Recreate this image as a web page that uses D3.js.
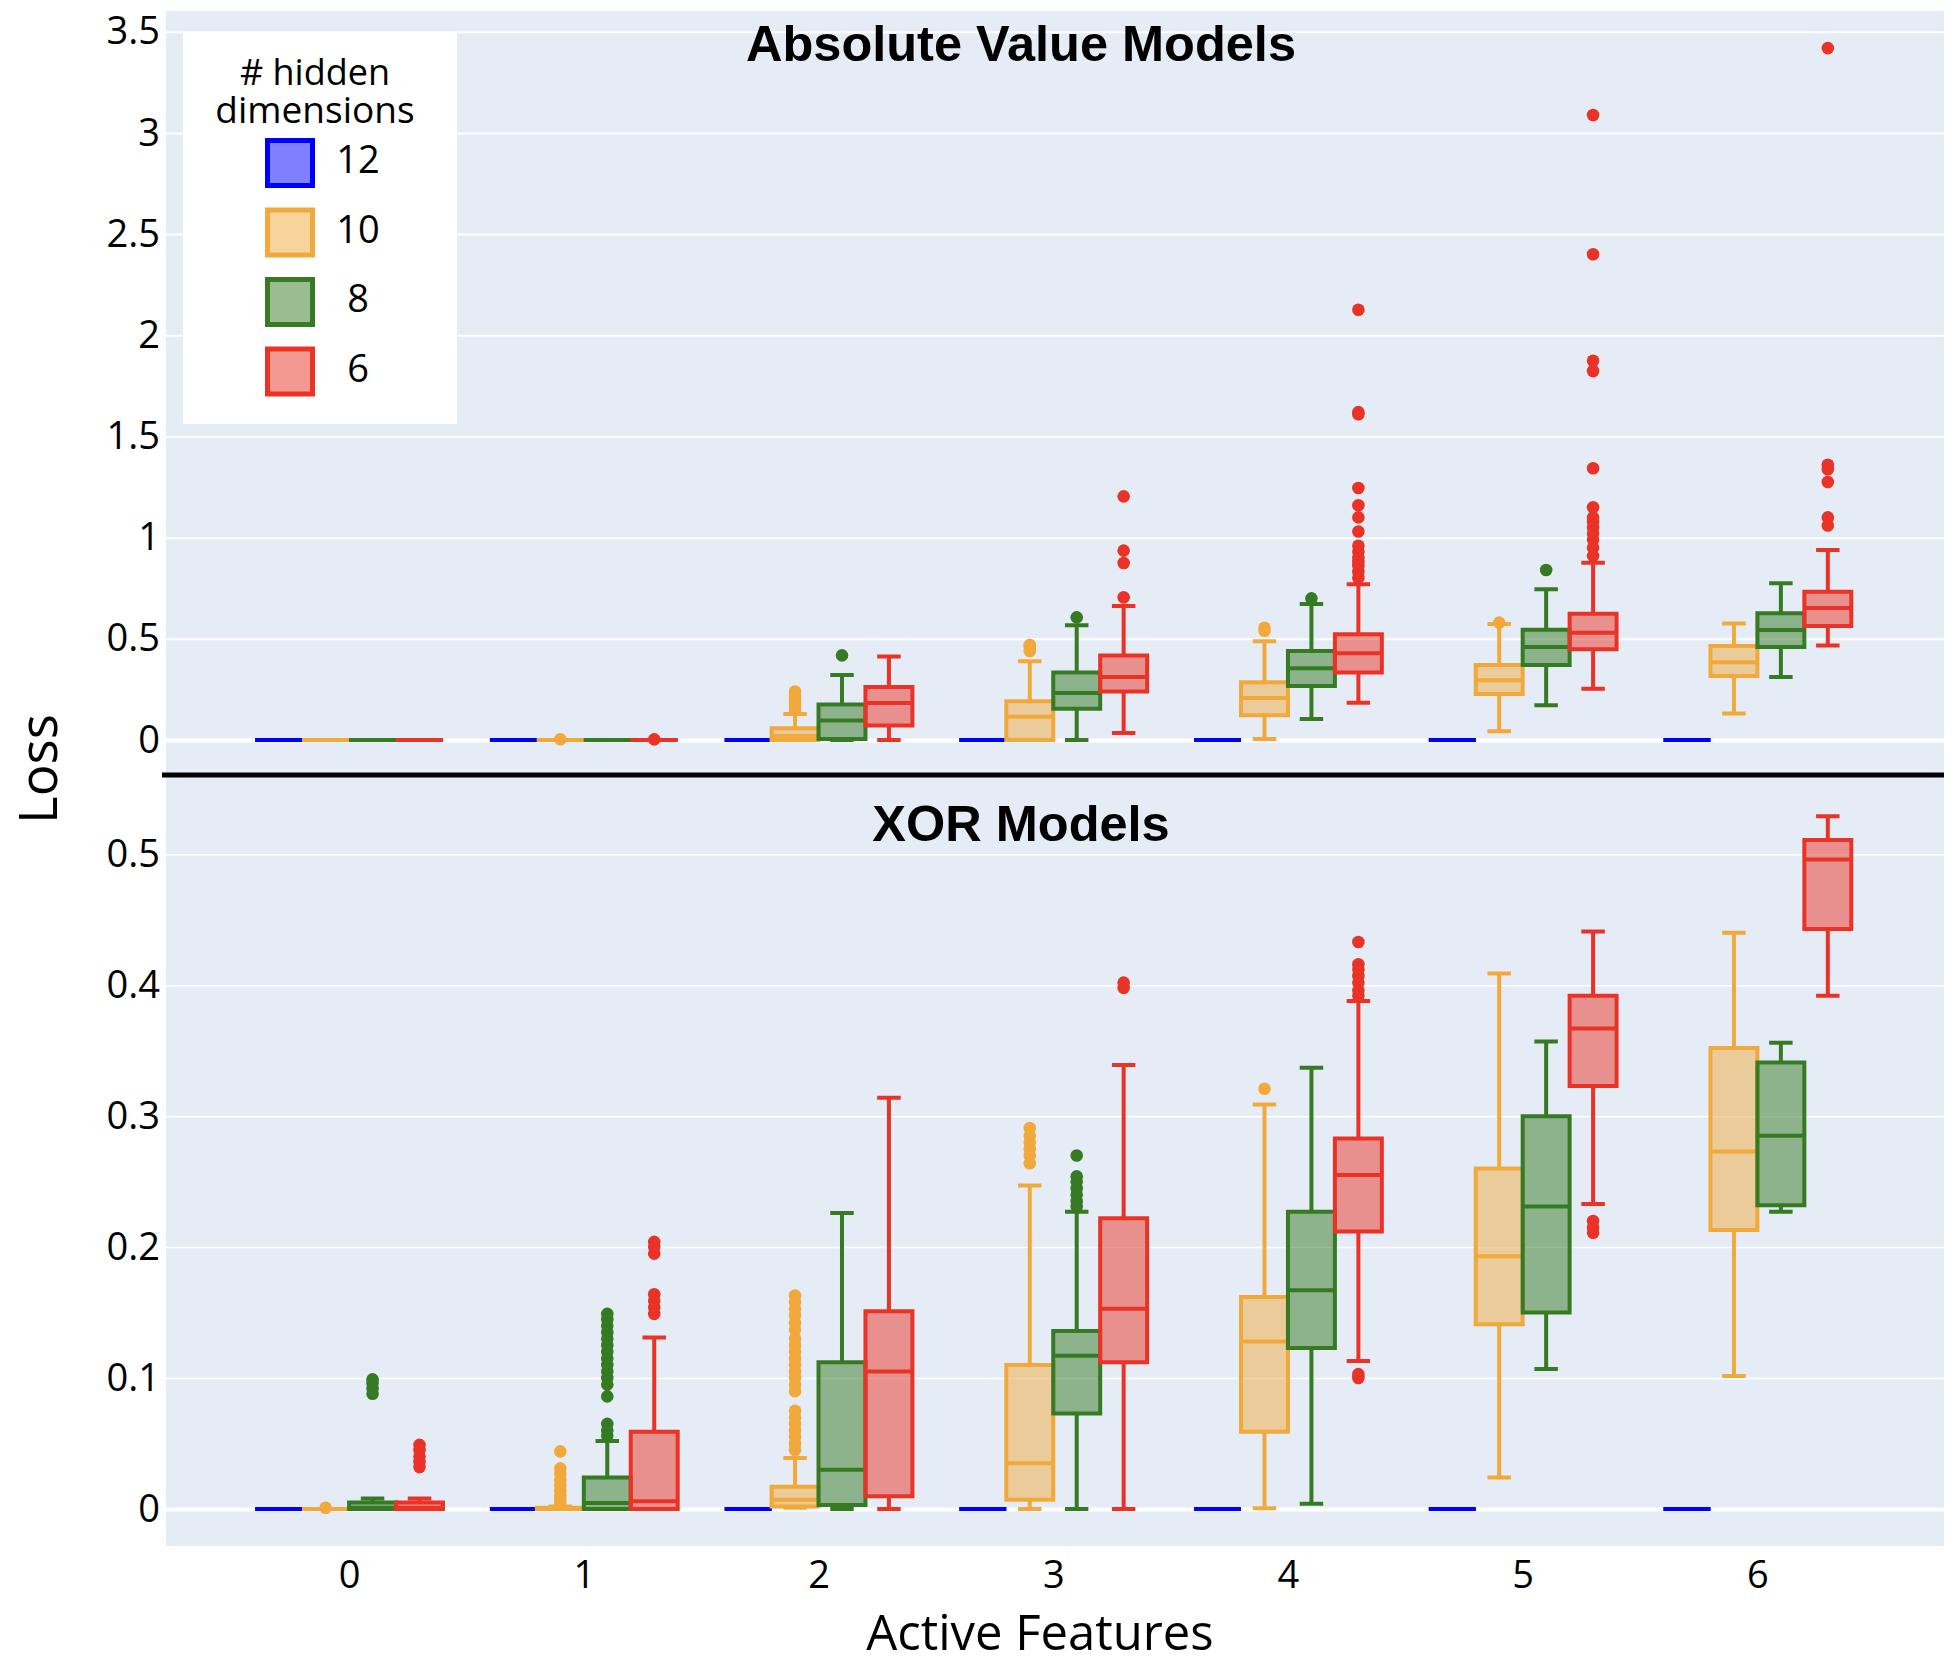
<!DOCTYPE html>
<html>
<head>
<meta charset="utf-8">
<script src="https://cdn.jsdelivr.net/npm/d3@7"></script>
<style>
  body { margin: 0; background: #fff; }
  text { font-family: "Open Sans", sans-serif; fill: #000; }
</style>
</head>
<body>
<div id="chart"></div>
<script>
// categories (active features) and groups (hidden dimensions)
var categories = [0, 1, 2, 3, 4, 5, 6];
var dims = ["12", "10", "8", "6"];
var dimColors = ["#0000ff", "#f2a93b", "#367a23", "#ea3326"];

// y tick values and labels
var absTicks = [0, 0.5, 1, 1.5, 2, 2.5, 3, 3.5];
var absTickLabels = ["0", "0.5", "1", "1.5", "2", "2.5", "3", "3.5"];
var xorTicks = [0, 0.1, 0.2, 0.3, 0.4, 0.5];
var xorTickLabels = ["0", "0.1", "0.2", "0.3", "0.4", "0.5"];

// box stats per category: [lower whisker, q1, median, q3, upper whisker]
// --- Absolute Value Models ---
var abs12 = [[0,0,0,0,0],[0,0,0,0,0],[0,0,0,0,0],[0,0,0,0,0],[0,0,0,0,0],[0,0,0,0,0],[0,0,0,0,0]];
var abs10 = [[0,0,0,0,0],[0,0,0,0,0],[0,0,0.02,0.058,0.128],[0,0,0.115,0.191,0.389],
             [0.005,0.122,0.208,0.285,0.488],[0.043,0.227,0.295,0.371,0.573],[0.131,0.316,0.384,0.465,0.576]];
var abs8  = [[0,0,0,0,0],[0,0,0,0,0],[0,0.005,0.096,0.175,0.321],[0,0.155,0.232,0.334,0.567],
             [0.104,0.267,0.355,0.44,0.672],[0.172,0.371,0.46,0.545,0.745],[0.311,0.46,0.543,0.626,0.775]];
var abs6  = [[0,0,0,0,0],[0,0,0,0,0],[0,0.072,0.183,0.262,0.413],[0.035,0.24,0.311,0.418,0.662],
             [0.184,0.333,0.429,0.523,0.77],[0.253,0.449,0.53,0.624,0.876],[0.467,0.563,0.652,0.732,0.939]];

var abs12Out = [[],[],[],[],[],[],[]];
var abs10Out = [[],[0.004],[0.15,0.165,0.18,0.195,0.21,0.225,0.24],[0.44,0.46,0.47],[0.54,0.555],[0.58],[]];
var abs8Out  = [[],[],[0.418],[0.606],[0.70],[0.84],[]];
var abs6Out  = [[],[0.003],[],[0.705,0.875,0.936,1.204],
                [0.80,0.83,0.86,0.88,0.90,0.93,0.96,1.03,1.10,1.16,1.245,1.61,1.62,2.126],
                [0.91,0.95,0.99,1.02,1.05,1.08,1.10,1.15,1.343,1.823,1.874,2.40,3.088],
                [1.06,1.10,1.275,1.338,1.36,3.419]];

// --- XOR Models ---
var xor12 = [[0,0,0,0,0],[0,0,0,0,0],[0,0,0,0,0],[0,0,0,0,0],[0,0,0,0,0],[0,0,0,0,0],[0,0,0,0,0]];
var xor10 = [[0,0,0,0,0],[0,0,0,0.001,0.002],[0.001,0.002,0.007,0.017,0.039],[0,0.007,0.035,0.11,0.247],
             [0.0005,0.059,0.128,0.162,0.309],[0.024,0.141,0.193,0.26,0.409],[0.1015,0.213,0.273,0.352,0.44]];
var xor8  = [[0,0,0.001,0.005,0.008],[0,0,0.0046,0.024,0.052],[0,0.003,0.03,0.112,0.226],[0,0.073,0.117,0.136,0.227],
             [0.004,0.123,0.167,0.227,0.337],[0.107,0.15,0.231,0.3,0.357],[0.227,0.232,0.285,0.341,0.356]];
var xor6  = [[0,0,0.001,0.005,0.008],[0,0,0.006,0.059,0.131],[0,0.0097,0.105,0.151,0.314],[0,0.112,0.153,0.222,0.339],
             [0.113,0.212,0.255,0.283,0.388],[0.233,0.323,0.367,0.392,0.441],[0.392,0.443,0.496,0.511,0.529]];

var xor12Out = [[],[],[],[],[],[],[]];
var xor10Out = [[0.001],[0.004,0.007,0.01,0.014,0.018,0.022,0.027,0.031,0.044],
                [0.045,0.05,0.055,0.06,0.065,0.07,0.075,0.09,0.095,0.1,0.105,0.11,0.115,0.12,0.125,0.13,0.137,0.142,0.148,0.153,0.158,0.163],
                [0.264,0.27,0.275,0.28,0.285,0.291],[0.321],[],[]];
var xor8Out  = [[0.088,0.092,0.096,0.099],
                [0.056,0.06,0.065,0.086,0.095,0.1,0.105,0.11,0.115,0.12,0.125,0.13,0.135,0.14,0.145,0.149],
                [],[0.231,0.235,0.24,0.245,0.25,0.254,0.27],[],[],[]];
var xor6Out  = [[0.032,0.036,0.04,0.045,0.049],[0.149,0.154,0.159,0.164,0.195,0.2,0.204],[],[0.398,0.402],
                [0.1,0.103,0.392,0.396,0.402,0.407,0.412,0.416,0.433],[0.211,0.215,0.22],[]];

// page size and plot area
var W = 1954, H = 1664;
var plotLeft = 166, plotRight = 1944;

var svg = d3.select("#chart")
  .append("svg")
    .attr("width", W)
    .attr("height", H)
    .style("display", "block");

// x scale over category index
var x = d3.scaleLinear()
  .domain([-0.78, 6.795])
  .range([plotLeft, plotRight]);
var step = x(1) - x(0);
var slot = step * 0.8 / dims.length;

function drawPanel(p) {
  var g = svg.append("g");

  g.append("rect")
    .attr("x", plotLeft).attr("y", p.top)
    .attr("width", plotRight - plotLeft).attr("height", p.bottom - p.top)
    .attr("fill", "#e5ecf6");

  // gridlines + tick labels
  var yAxis = g.append("g")
    .attr("transform", "translate(" + plotLeft + ",0)")
    .call(d3.axisLeft(p.y)
      .tickValues(p.ticks)
      .tickSize(-(plotRight - plotLeft))
      .tickPadding(6)
      .tickFormat(function(d, i) { return p.labels[i]; }));
  yAxis.select(".domain").remove();
  yAxis.selectAll("line")
    .attr("stroke", "#fff")
    .attr("stroke-width", function(d) { return d === 0 ? 4 : p.gridW; });
  yAxis.selectAll("text")
    .style("font-family", "'Open Sans', sans-serif")
    .style("font-size", "38px")
    .attr("fill", "#000");

  // boxes, one trace per hidden dimension
  p.stats.forEach(function(series, j) {
    var col = dimColors[j];
    var tg = g.append("g");
    series.forEach(function(s, i) {
      var cx = x(categories[i]) + (j - 1.5) * slot;
      var x0 = cx - slot / 2, x1 = cx + slot / 2;
      var c0 = cx - slot / 4, c1 = cx + slot / 4;
      var yLo = p.y(s[0]), yQ1 = p.y(s[1]), yMed = p.y(s[2]), yQ3 = p.y(s[3]), yHi = p.y(s[4]);

      // whiskers
      tg.append("path")
        .attr("d", "M" + cx + "," + yQ3 + "V" + yHi + "M" + c0 + "," + yHi + "H" + c1 +
                   "M" + cx + "," + yQ1 + "V" + yLo + "M" + c0 + "," + yLo + "H" + c1)
        .attr("fill", "none")
        .attr("stroke", col)
        .attr("stroke-width", 4);

      // box
      tg.append("path")
        .attr("d", "M" + x0 + "," + yQ1 + "H" + x1 + "V" + yQ3 + "H" + x0 + "Z")
        .attr("fill", col)
        .attr("fill-opacity", 0.5)
        .attr("stroke", col)
        .attr("stroke-width", 4);

      // median
      tg.append("path")
        .attr("d", "M" + x0 + "," + yMed + "H" + x1)
        .attr("stroke", col)
        .attr("stroke-width", 4);

      // outliers
      tg.selectAll(null)
        .data(p.outliers[j][i])
        .enter()
        .append("circle")
          .attr("cx", cx)
          .attr("cy", function(d) { return p.y(d); })
          .attr("r", 6.3)
          .attr("fill", col);
    });
  });

  // panel title
  g.append("text")
    .attr("x", 1021)
    .attr("y", p.titleY)
    .attr("text-anchor", "middle")
    .style("font-family", "'Liberation Sans', Arial, sans-serif")
    .style("font-weight", "bold")
    .style("font-size", "50.5px")
    .text(p.title);
}

// top: Absolute Value Models
var yTop = d3.scaleLinear().domain([0, 3.5]).range([740, 31.7]);
drawPanel({
  top: 11, bottom: 775, y: yTop, ticks: absTicks, labels: absTickLabels, gridW: 2,
  stats: [abs12, abs10, abs8, abs6],
  outliers: [abs12Out, abs10Out, abs8Out, abs6Out],
  title: "Absolute Value Models", titleY: 61
});

// bottom: XOR Models
var yBot = d3.scaleLinear().domain([0, 0.5]).range([1509, 854.3]);
drawPanel({
  top: 775, bottom: 1546, y: yBot, ticks: xorTicks, labels: xorTickLabels, gridW: 1.5,
  stats: [xor12, xor10, xor8, xor6],
  outliers: [xor12Out, xor10Out, xor8Out, xor6Out],
  title: "XOR Models", titleY: 841
});

// black separator between the two panels
svg.append("line")
  .attr("x1", 162).attr("x2", plotRight)
  .attr("y1", 775).attr("y2", 775)
  .attr("stroke", "#000")
  .attr("stroke-width", 5);

// x axis labels
var xAxis = svg.append("g")
  .attr("transform", "translate(0,1546)")
  .call(d3.axisBottom(x).tickValues(categories).tickSize(0).tickPadding(15).tickFormat(function(d) { return d; }));
xAxis.select(".domain").remove();
xAxis.selectAll("text")
  .style("font-family", "'Open Sans', sans-serif")
  .style("font-size", "38px")
  .attr("fill", "#000");

svg.append("text")
  .attr("x", 1040)
  .attr("y", 1650)
  .attr("text-anchor", "middle")
  .style("font-size", "49px")
  .text("Active Features");

svg.append("text")
  .attr("transform", "translate(57,769) rotate(-90)")
  .attr("text-anchor", "middle")
  .style("font-size", "53px")
  .text("Loss");

// legend
var legend = svg.append("g");
legend.append("rect")
  .attr("x", 183).attr("y", 33)
  .attr("width", 274).attr("height", 391)
  .attr("fill", "#fff");
legend.append("text")
  .attr("x", 315).attr("y", 85)
  .attr("text-anchor", "middle")
  .style("font-size", "36px")
  .text("# hidden");
legend.append("text")
  .attr("x", 315).attr("y", 123)
  .attr("text-anchor", "middle")
  .style("font-size", "37px")
  .text("dimensions");

var item = legend.selectAll(".item")
  .data(dims)
  .enter()
  .append("g")
    .attr("class", "item")
    .attr("transform", function(d, i) { return "translate(0," + (163 + i * 69.5) + ")"; });
item.append("rect")
  .attr("x", 267.5).attr("y", -22.5)
  .attr("width", 45).attr("height", 45)
  .attr("fill", function(d, i) { return dimColors[i]; })
  .attr("fill-opacity", 0.5)
  .attr("stroke", function(d, i) { return dimColors[i]; })
  .attr("stroke-width", 5);
item.append("text")
  .attr("x", 358).attr("y", -3)
  .attr("dy", "0.35em")
  .attr("text-anchor", "middle")
  .style("font-size", "38px")
  .text(function(d) { return d; });
</script>
</body>
</html>
